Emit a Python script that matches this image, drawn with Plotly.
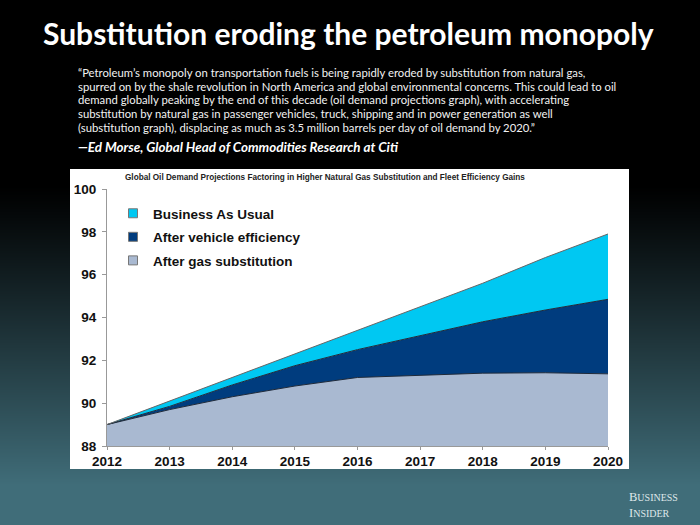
import base64
import struct
import zlib

import plotly.graph_objects as go

# ---------------- data ----------------
years = [2012, 2013, 2014, 2015, 2016, 2017, 2018, 2019, 2020]
business_as_usual = [89.0, 90.1, 91.2, 92.3, 93.4, 94.5, 95.6, 96.8, 97.9]
after_vehicle_efficiency = [89.0, 89.85, 90.85, 91.75, 92.5, 93.15, 93.8, 94.35, 94.85]
after_gas_substitution = [89.0, 89.7, 90.3, 90.8, 91.2, 91.3, 91.4, 91.42, 91.37]
series_names = ["Business As Usual", "After vehicle efficiency", "After gas substitution"]
y_ticks = [88, 90, 92, 94, 96, 98, 100]

main_title = "Substitution eroding the petroleum monopoly"
chart_title = ("Global Oil Demand Projections Factoring in Higher Natural Gas "
               "Substitution and Fleet Efficiency Gains")
quote_lines = [
    "\u201cPetroleum\u2019s monopoly on transportation fuels is being rapidly eroded by substitution from natural gas,",
    "spurred on by the shale revolution in North America and global environmental concerns. This could lead to oil",
    "demand globally peaking by the end of this decade (oil demand projections graph), with accelerating",
    "substitution by natural gas in passenger vehicles, truck, shipping and in power generation as well",
    "(substitution graph), displacing as much as 3.5 million barrels per day of oil demand by 2020.\u201d",
]
attribution = "\u2014Ed Morse, Global Head of Commodities Research at Citi"

# ---------------- geometry helpers ----------------
W, H = 700, 525
L, R, T, B = 107, 608, 189, 446  # plot area in pixels


def px(x):
    return (x - L) / (R - L)


def py(y):
    return (B - y) / (B - T)


# ---------------- background gradient image ----------------
def gradient_png(height):
    top = (0, 0, 0)
    bottom = (64, 109, 121)
    y0, y1 = 185, 485
    rows = b""
    for y in range(height):
        t = min(max((y - y0) / (y1 - y0), 0.0), 1.0)
        t = t ** 1.1
        c = bytes(int(round(top[i] + (bottom[i] - top[i]) * t)) for i in range(3))
        rows += b"\x00" + c

    def chunk(tag, data):
        return (struct.pack(">I", len(data)) + tag + data
                + struct.pack(">I", zlib.crc32(tag + data) & 0xFFFFFFFF))

    png = b"\x89PNG\r\n\x1a\n"
    png += chunk(b"IHDR", struct.pack(">IIBBBBB", 1, height, 8, 2, 0, 0, 0))
    png += chunk(b"IDAT", zlib.compress(rows, 9))
    png += chunk(b"IEND", b"")
    return "data:image/png;base64," + base64.b64encode(png).decode()


colors = {"Business As Usual": "#00c8f2",
          "After vehicle efficiency": "#003c7e",
          "After gas substitution": "#a9b9d1"}

fig = go.Figure()

# areas (absolute values, each filled to the one below)
fig.add_trace(go.Scatter(x=years, y=after_gas_substitution, mode="lines", fill="tozeroy",
                         fillcolor=colors[series_names[2]], line=dict(color="#1f2a3a", width=1),
                         showlegend=False, hoverinfo="skip"))
fig.add_trace(go.Scatter(x=years, y=after_vehicle_efficiency, mode="lines", fill="tonexty",
                         fillcolor=colors[series_names[1]], line=dict(color="#1f2a3a", width=1),
                         showlegend=False, hoverinfo="skip"))
fig.add_trace(go.Scatter(x=years, y=business_as_usual, mode="lines", fill="tonexty",
                         fillcolor=colors[series_names[0]], line=dict(color="#666666", width=1),
                         showlegend=False, hoverinfo="skip"))

# legend entries (small squares)
for i, name in enumerate(series_names):
    fig.add_trace(go.Scatter(x=[None], y=[None], mode="markers", name=name,
                             legendgroup=f"g{i}",
                             marker=dict(symbol="square", size=9, color=colors[name],
                                         line=dict(color="#777777", width=1))))

annotations = [
    dict(text=main_title, x=px(348), y=py(33), xref="paper", yref="paper",
         showarrow=False, xanchor="center", yanchor="middle",
         font=dict(family="Lato", size=30, color="white", weight="bold")),
    dict(text=chart_title, x=px(325), y=py(178), xref="paper", yref="paper",
         showarrow=False, xanchor="center", yanchor="middle",
         font=dict(family="Liberation Sans", size=8.2, color="#222222", weight="bold")),
    dict(text=attribution, x=px(76), y=py(147), xref="paper", yref="paper",
         showarrow=False, xanchor="left", yanchor="middle",
         font=dict(family="Lato", size=13.4, color="white", weight="bold", style="italic")),
    dict(text="B<span style='font-size:10px'>USINESS</span><br>I<span style='font-size:10px'>NSIDER</span>",
         x=px(627), y=py(505), xref="paper", yref="paper", showarrow=False,
         xanchor="left", yanchor="middle", align="left",
         font=dict(family="Liberation Serif", size=12.5, color="#dfe7ea")),
]
for k, line in enumerate(quote_lines):
    annotations.append(dict(text=line, x=px(76), y=py(72 + 14 * k), xref="paper", yref="paper",
                            showarrow=False, xanchor="left", yanchor="middle",
                            font=dict(family="Lato", size=11.3, color="#f2f2f2")))

fig.update_layout(
    width=W, height=H,
    margin=dict(l=L, r=W - R, t=T, b=H - B),
    paper_bgcolor="black",
    plot_bgcolor="rgba(0,0,0,0)",
    images=[dict(source=gradient_png(H), xref="paper", yref="paper",
                 x=px(0), y=py(0), sizex=W / (R - L), sizey=H / (B - T),
                 xanchor="left", yanchor="top", sizing="stretch", layer="below")],
    shapes=[dict(type="rect", xref="paper", yref="paper", layer="below",
                 x0=px(70), x1=px(629), y0=py(469), y1=py(169),
                 fillcolor="white", line=dict(width=0))],
    annotations=annotations,
    showlegend=True,
    legend=dict(x=px(113), y=py(198), xanchor="left", yanchor="top",
                bgcolor="rgba(0,0,0,0)", tracegroupgap=3,
                font=dict(family="Liberation Sans", size=13.5, color="#111111", weight="bold")),
    xaxis=dict(range=[2012, 2020], tickvals=years, ticktext=[str(y) for y in years],
               showgrid=False, zeroline=False, showline=True, linecolor="#999999",
               ticks="outside", ticklen=3, tickcolor="#999999",
               tickfont=dict(family="Liberation Sans", size=13.5, color="#111111", weight="bold")),
    yaxis=dict(range=[88, 100], tickvals=y_ticks, showgrid=False, zeroline=False,
               showline=True, linecolor="#999999", ticks="outside", ticklen=4,
               tickcolor="#999999", ticklabelstandoff=3,
               tickfont=dict(family="Liberation Sans", size=13.5, color="#111111", weight="bold")),
)

fig.write_html("out.html", config={"displayModeBar": False},
               post_script="document.body.style.margin='0px';"
                           "document.body.style.overflow='hidden';")
